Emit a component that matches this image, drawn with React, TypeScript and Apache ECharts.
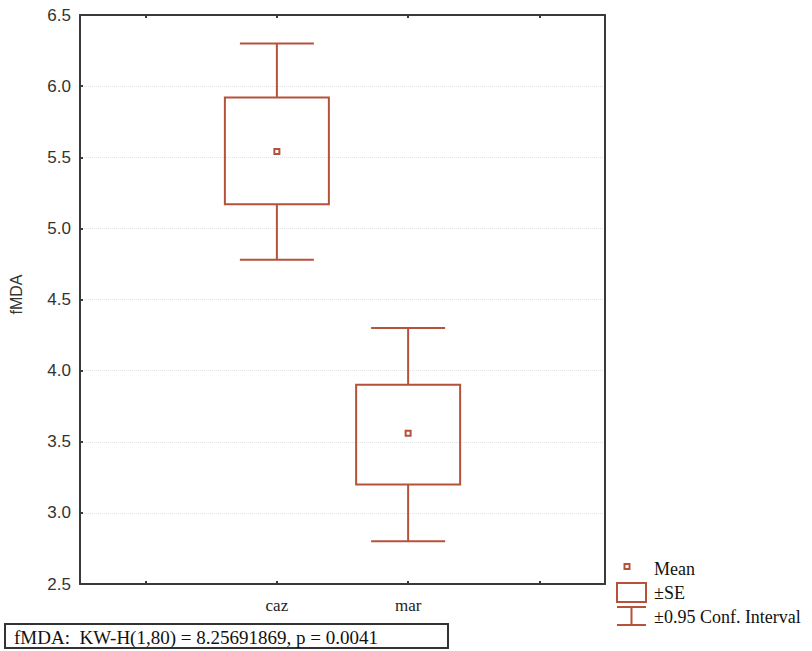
import React, { useEffect, useRef } from "react";
import * as echarts from "echarts";

const categories = ["", "caz", "mar", ""];
const groupIndex = [1, 2];
const means = [5.54, 3.56];
const seLow = [5.17, 3.2];
const seHigh = [5.92, 3.9];
const ciLow = [4.78, 2.8];
const ciHigh = [6.3, 4.3];
const yTicks = { min: 2.5, max: 6.5, interval: 0.5 };
const statText = "fMDA:  KW-H(1,80) = 8.25691869, p = 0.0041";
const legendLabels = ["Mean", "±SE", "±0.95 Conf. Interval"];

const RED = "#b5523b";
const AXIS = "#3a3a3a";

export default function App() {
  const ref = useRef<HTMLDivElement>(null);
  useEffect(() => {
    if (!ref.current) return;
    const chart = echarts.init(ref.current, null, { renderer: "svg" });
    const data = groupIndex.map((g, i) => [g, means[i], seLow[i], seHigh[i], ciLow[i], ciHigh[i]]);
    const serif = "Liberation Serif";
    const lx = 620;
    chart.setOption({
      animation: false,
      backgroundColor: "#fff",
      grid: { left: 78, right: 207, top: 15, bottom: 67, show: false },
      xAxis: [
        {
          type: "category",
          data: categories,
          boundaryGap: true,
          axisLine: { show: true, lineStyle: { color: AXIS, width: 2 } },
          axisTick: { show: true, inside: true, alignWithLabel: true, length: 3, lineStyle: { color: AXIS, width: 2 } },
          axisLabel: { fontFamily: serif, fontSize: 17, color: "#222", margin: 13, interval: 0 },
          splitLine: { show: false },
        },
        {
          type: "category",
          data: categories,
          position: "top",
          boundaryGap: true,
          axisLine: { show: true, lineStyle: { color: AXIS, width: 2 } },
          axisTick: { show: true, inside: true, alignWithLabel: true, length: 3, lineStyle: { color: AXIS, width: 2 } },
          axisLabel: { show: false },
        },
      ],
      yAxis: [
        {
          type: "value",
          min: yTicks.min,
          max: yTicks.max,
          interval: yTicks.interval,
          name: "fMDA",
          nameLocation: "middle",
          nameGap: 56,
          nameTextStyle: { fontFamily: "Liberation Sans", fontSize: 16, color: "#333", padding: [0, 0, 0, 10] },
          axisLine: { show: true, lineStyle: { color: AXIS, width: 2 } },
          axisTick: { show: true, inside: true, length: 3, lineStyle: { color: AXIS, width: 2 } },
          axisLabel: {
            fontFamily: "Liberation Sans",
            fontSize: 17,
            color: "#333",
            margin: 9,
            formatter: (v: number) => v.toFixed(1),
          },
          splitLine: { show: true, lineStyle: { color: "#e2e2e2", type: "dotted", width: 1 } },
        },
        {
          type: "value",
          min: yTicks.min,
          max: yTicks.max,
          interval: yTicks.interval,
          position: "right",
          axisLine: { show: true, lineStyle: { color: AXIS, width: 2 } },
          axisTick: { show: false },
          axisLabel: { show: false },
          splitLine: { show: false },
        },
      ],
      series: [
        {
          type: "custom",
          xAxisIndex: 0,
          yAxisIndex: 0,
          data,
          renderItem: (params: any, api: any) => {
            const x = api.value(0);
            const pm = api.coord([x, api.value(1)]);
            const pseL = api.coord([x, api.value(2)]);
            const pseH = api.coord([x, api.value(3)]);
            const pciL = api.coord([x, api.value(4)]);
            const pciH = api.coord([x, api.value(5)]);
            const bw = 104;
            const cw = 74;
            const cx = pm[0];
            const ls = { stroke: RED, lineWidth: 2 };
            return {
              type: "group",
              children: [
                { type: "line", shape: { x1: cx, y1: pciH[1], x2: cx, y2: pseH[1] }, style: ls },
                { type: "line", shape: { x1: cx, y1: pseL[1], x2: cx, y2: pciL[1] }, style: ls },
                { type: "line", shape: { x1: cx - cw / 2, y1: pciH[1], x2: cx + cw / 2, y2: pciH[1] }, style: ls },
                { type: "line", shape: { x1: cx - cw / 2, y1: pciL[1], x2: cx + cw / 2, y2: pciL[1] }, style: ls },
                {
                  type: "rect",
                  shape: { x: cx - bw / 2, y: pseH[1], width: bw, height: pseL[1] - pseH[1] },
                  style: { fill: "none", stroke: RED, lineWidth: 2 },
                },
                {
                  type: "rect",
                  shape: { x: cx - 2.5, y: pm[1] - 2.5, width: 5, height: 5 },
                  style: { fill: "#fff", stroke: RED, lineWidth: 2 },
                },
              ],
            };
          },
        },
      ],
      graphic: [
        {
          type: "rect",
          shape: { x: 5, y: 624, width: 443, height: 24 },
          style: { fill: "#fff", stroke: "#333", lineWidth: 2 },
        },
        {
          type: "text",
          x: 14,
          y: 637,
          style: { text: statText, fontFamily: serif, fontSize: 19, fill: "#111", verticalAlign: "middle" },
        },
        // legend symbols
        {
          type: "rect",
          shape: { x: 624.5, y: 564, width: 5, height: 5 },
          style: { fill: "#fff", stroke: RED, lineWidth: 2 },
        },
        {
          type: "rect",
          shape: { x: lx - 3, y: 583, width: 29, height: 19 },
          style: { fill: "none", stroke: RED, lineWidth: 2 },
        },
        { type: "line", shape: { x1: lx - 3, y1: 607, x2: lx + 26, y2: 607 }, style: { stroke: RED, lineWidth: 2 } },
        { type: "line", shape: { x1: lx + 11.5, y1: 607, x2: lx + 11.5, y2: 625 }, style: { stroke: RED, lineWidth: 2 } },
        { type: "line", shape: { x1: lx - 3, y1: 625, x2: lx + 26, y2: 625 }, style: { stroke: RED, lineWidth: 2 } },
        {
          type: "text",
          x: 654,
          y: 569,
          style: { text: legendLabels[0], fontFamily: serif, fontSize: 18, fill: "#111", verticalAlign: "middle" },
        },
        {
          type: "text",
          x: 654,
          y: 593,
          style: { text: legendLabels[1], fontFamily: serif, fontSize: 18, fill: "#111", verticalAlign: "middle" },
        },
        {
          type: "text",
          x: 654,
          y: 617,
          style: { text: legendLabels[2], fontFamily: serif, fontSize: 18, fill: "#111", verticalAlign: "middle" },
        },
      ],
    });
    return () => chart.dispose();
  }, []);
  return <div ref={ref} style={{ width: 812, height: 651, position: "absolute", left: 0, top: 0 }} />;
}
